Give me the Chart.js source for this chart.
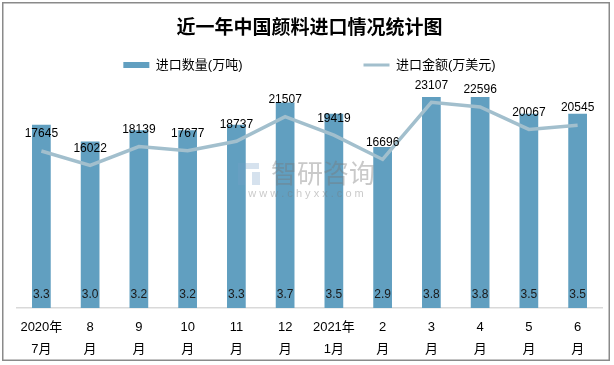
<!DOCTYPE html>
<html>
<head>
<meta charset="utf-8">
<script src="https://cdn.jsdelivr.net/npm/chart.js@4/dist/chart.umd.min.js"></script>
<style>
  html, body { margin: 0; padding: 0; background: #fff; }
  #wrap { width: 614px; height: 365px; position: relative; }
</style>
</head>
<body>
<div id="wrap"><canvas id="myChart" width="614" height="365"></canvas></div>
<script>
// Data
const months = [
    ['2020年', '7月'], ['8', '月'], ['9', '月'], ['10', '月'], ['11', '月'], ['12', '月'],
    ['2021年', '1月'], ['2', '月'], ['3', '月'], ['4', '月'], ['5', '月'], ['6', '月']
];
const quantity = [3.3, 3.0, 3.2, 3.2, 3.3, 3.7, 3.5, 2.9, 3.8, 3.8, 3.5, 3.5];
const amount = [17645, 16022, 18139, 17677, 18737, 21507, 19419, 16696, 23107, 22596, 20067, 20545];

const barColor = '#619fc0';
const lineColor = '#a2bfcd';
const numFont = '"Liberation Sans", Arial, sans-serif';
const cjkFont = '"Liberation Sans", "Noto Sans CJK SC", sans-serif';

// value labels, frame and watermark
const extras = {
    id: 'extras',
    afterDatasetsDraw(chart) {
        const ctx = chart.ctx;
        ctx.save();
        ctx.textAlign = 'center';
        ctx.textBaseline = 'middle';
        ctx.fillStyle = '#1a1a1a';
        ctx.font = '12px ' + numFont;
        chart.getDatasetMeta(0).data.forEach((bar, i) => {
            ctx.fillText(quantity[i].toFixed(1), bar.x, bar.base - 13);
        });
        ctx.fillStyle = '#000';
        chart.getDatasetMeta(1).data.forEach((pt, i) => {
            ctx.fillText(String(amount[i]), pt.x, pt.y - 17);
        });

        // watermark
        ctx.fillStyle = 'rgba(120,120,120,0.4)';
        ctx.font = '26px "Noto Sans CJK SC", sans-serif';
        ctx.fillText('智研咨询', 323, 173);
        ctx.font = '11px ' + numFont;
        ctx.fillText('w w w . c h y x x . c o m', 306, 194);
        ctx.fillStyle = 'rgba(120,160,200,0.3)';
        ctx.fillRect(238, 163, 7, 22);
        ctx.fillRect(245, 163, 14, 6);
        ctx.fillRect(252, 172, 8, 13);
        ctx.restore();
    },
    afterDraw(chart) {
        const ctx = chart.ctx;
        ctx.save();
        ctx.strokeStyle = '#8a8a8a';
        ctx.lineWidth = 1.5;
        ctx.strokeRect(2.75, 2.75, 606.5, 357.5);
        ctx.restore();
    }
};

document.addEventListener('DOMContentLoaded', function () {
    const ctx = document.getElementById('myChart').getContext('2d');
    new Chart(ctx, {
        data: {
            labels: months,
            datasets: [{
                type: 'bar',
                label: '进口数量(万吨)',
                data: quantity,
                backgroundColor: barColor,
                borderWidth: 0,
                yAxisID: 'y',
                barPercentage: 0.384,
                categoryPercentage: 1,
                order: 1
            }, {
                type: 'line',
                label: '进口金额(万美元)',
                data: amount,
                borderColor: lineColor,
                backgroundColor: lineColor,
                borderWidth: 3.5,
                pointRadius: 0,
                tension: 0,
                yAxisID: 'y2',
                order: 0
            }]
        },
        options: {
            responsive: false,
            animation: false,
            layout: { padding: { top: 14, left: 17, right: 12, bottom: -4 } },
            plugins: {
                tooltip: { enabled: false },
                title: {
                    display: true,
                    text: '近一年中国颜料进口情况统计图',
                    color: '#000',
                    font: { family: '"Noto Sans CJK SC", sans-serif', size: 19, weight: 'bold' },
                    padding: { top: 1, bottom: 10.7 }
                },
                legend: {
                    display: true,
                    labels: {
                        color: '#000',
                        font: { family: cjkFont, size: 13 },
                        usePointStyle: true,
                        pointStyleWidth: 26,
                        boxHeight: 6,
                        padding: 10,
                        generateLabels(chart) {
                            const items = Chart.defaults.plugins.legend.labels.generateLabels(chart)
                                .sort((a, b) => a.datasetIndex - b.datasetIndex);
                            items[0].pointStyle = 'rect';
                            items[0].lineWidth = 0;
                            items[1].pointStyle = 'line';
                            items[1].lineWidth = 3;
                            items[1].strokeStyle = lineColor;
                            const spacer = () => ({
                                text: '\u2003', fillStyle: 'rgba(0,0,0,0)', strokeStyle: 'rgba(0,0,0,0)',
                                lineWidth: 0, pointStyle: 'line', hidden: false
                            });
                            return [items[0], spacer(), spacer(), items[1]];
                        }
                    }
                }
            },
            scales: {
                x: {
                    grid: { display: false, drawTicks: false },
                    border: { display: true, color: '#d9d9d9', width: 1.5 },
                    ticks: {
                        color: '#000',
                        padding: 9,
                        maxRotation: 0,
                        autoSkip: false,
                        font: { family: cjkFont, size: 13, lineHeight: 1.65 }
                    }
                },
                y: { display: false, min: 0, max: 4.08 },
                y2: { display: false, min: 0, max: 25450 }
            }
        },
        plugins: [extras]
    });
});
</script>
</body>
</html>
